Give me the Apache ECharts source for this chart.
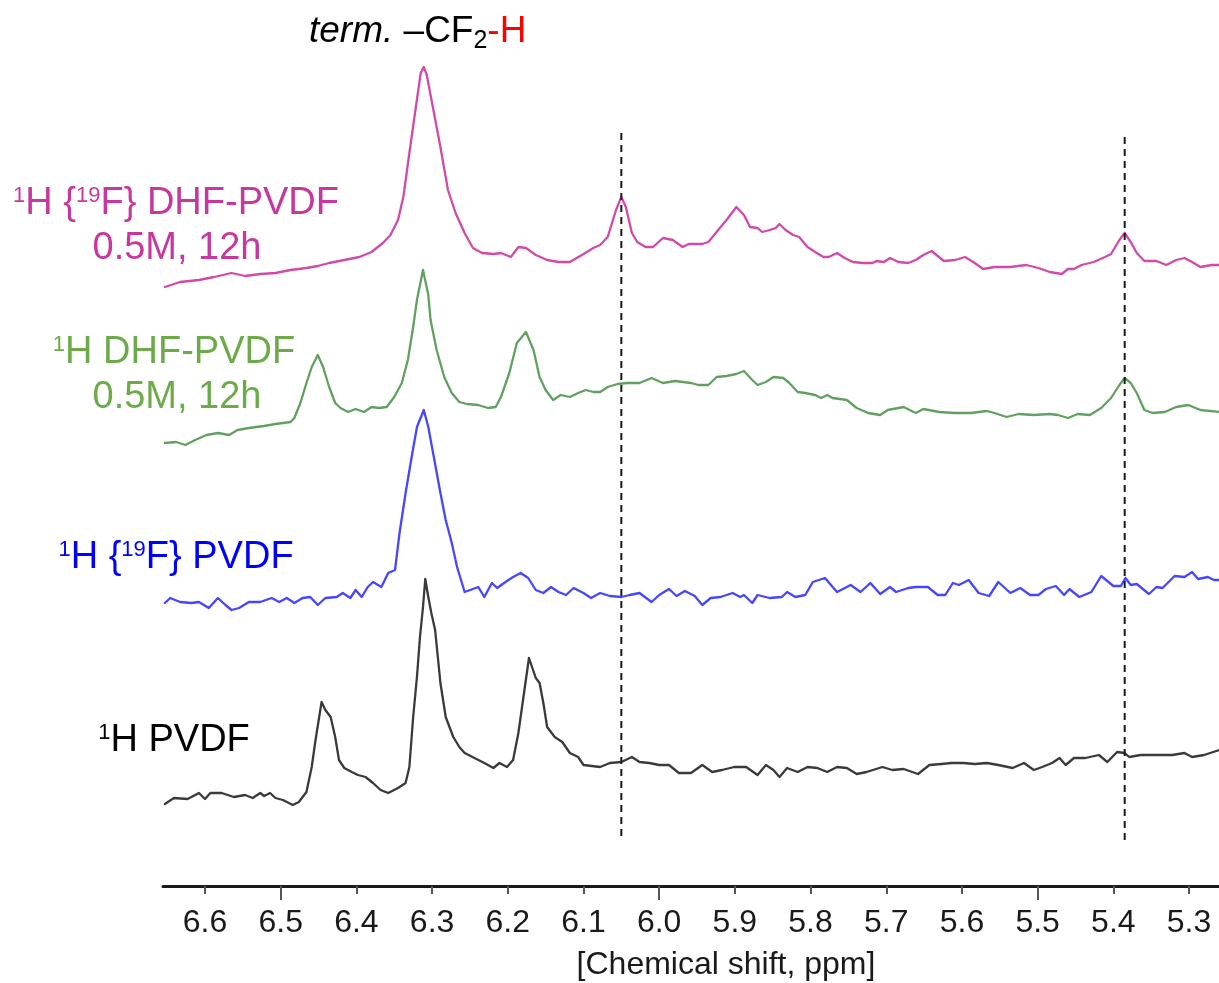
<!DOCTYPE html>
<html>
<head>
<meta charset="utf-8">
<script src="https://cdn.jsdelivr.net/npm/echarts@6/dist/echarts.min.js"></script>
<style>
html,body{margin:0;padding:0;background:#fff;}
#chart{width:1219px;height:983px;}
</style>
</head>
<body>
<div id="chart"></div>
<script>
// Chemical shift axis ticks (ppm)
const tickValues = [5.3,5.4,5.5,5.6,5.7,5.8,5.9,6.0,6.1,6.2,6.3,6.4,6.5,6.6];
const majorTickValues = [5.5,6.0,6.5];

// Trace: 1H {19F} DHF-PVDF 0.5M, 12h (intensity, arbitrary units incl. stacking offset)
const magentaPpm = [6.653,6.633,6.608,6.588,6.565,6.547,6.527,6.507,6.487,6.466,6.451,6.436,6.416,6.396,6.380,6.365,6.355,6.345,6.338,6.330,6.322,6.315,6.311,6.307,6.299,6.289,6.279,6.269,6.257,6.246,6.234,6.219,6.209,6.196,6.186,6.176,6.163,6.148,6.133,6.118,6.102,6.087,6.078,6.068,6.057,6.050,6.044,6.036,6.029,6.018,6.008,5.995,5.982,5.969,5.961,5.943,5.935,5.922,5.911,5.898,5.888,5.880,5.870,5.864,5.854,5.846,5.841,5.833,5.823,5.815,5.804,5.794,5.783,5.776,5.765,5.755,5.744,5.731,5.718,5.713,5.703,5.695,5.684,5.671,5.661,5.651,5.640,5.632,5.624,5.609,5.596,5.585,5.572,5.557,5.536,5.515,5.499,5.484,5.468,5.460,5.452,5.442,5.426,5.411,5.403,5.392,5.385,5.377,5.369,5.359,5.343,5.330,5.317,5.306,5.296,5.285,5.270,5.260];
const magentaInt = [599,604,606,609,613,610,612,613,616,618,620,623,626,629,634,643,651,666,689,733,776,813,819,811,779,739,696,673,653,638,633,632,633,629,639,638,631,626,624,624,631,638,641,649,676,689,679,653,644,639,639,648,646,639,642,642,644,656,666,679,671,659,658,654,656,658,662,656,651,649,639,634,629,629,633,628,624,623,623,625,624,628,624,623,626,631,635,630,625,626,629,624,617,619,619,621,618,614,612,617,617,621,624,629,632,646,653,644,633,625,625,621,626,628,624,619,621,621];

// Trace: 1H DHF-PVDF 0.5M, 12h
const greenPpm = [6.653,6.638,6.626,6.613,6.598,6.583,6.568,6.557,6.542,6.522,6.507,6.487,6.482,6.474,6.466,6.459,6.451,6.444,6.436,6.428,6.421,6.411,6.401,6.390,6.380,6.370,6.360,6.350,6.340,6.332,6.325,6.320,6.312,6.305,6.302,6.294,6.284,6.274,6.264,6.254,6.239,6.226,6.216,6.209,6.198,6.188,6.176,6.166,6.158,6.150,6.140,6.130,6.118,6.107,6.097,6.087,6.078,6.068,6.055,6.042,6.026,6.010,5.995,5.979,5.958,5.948,5.935,5.924,5.911,5.898,5.888,5.877,5.870,5.859,5.849,5.836,5.828,5.817,5.807,5.794,5.786,5.778,5.771,5.752,5.739,5.724,5.708,5.698,5.677,5.661,5.651,5.630,5.609,5.588,5.567,5.557,5.541,5.525,5.505,5.484,5.473,5.460,5.447,5.431,5.416,5.403,5.392,5.385,5.377,5.369,5.359,5.348,5.332,5.317,5.301,5.285,5.260];
const greenInt = [443,444,441,446,451,453,451,456,458,460,462,464,468,483,503,519,531,519,499,483,478,474,477,474,479,478,479,489,503,526,559,586,616,591,566,536,509,493,484,482,481,478,479,489,513,543,554,536,509,496,486,491,489,493,496,494,494,499,502,503,503,508,503,505,503,501,501,509,510,512,515,506,501,504,509,508,503,494,493,491,488,491,488,486,478,473,471,476,479,473,477,474,473,473,475,473,469,472,471,472,471,468,472,471,478,488,501,508,503,493,476,473,474,479,481,476,474];

// Trace: 1H {19F} PVDF
const bluePpm = [6.653,6.646,6.633,6.618,6.608,6.595,6.583,6.573,6.565,6.555,6.542,6.527,6.512,6.502,6.492,6.482,6.471,6.461,6.451,6.441,6.426,6.418,6.408,6.401,6.393,6.385,6.378,6.367,6.358,6.349,6.343,6.335,6.327,6.320,6.311,6.305,6.297,6.289,6.282,6.274,6.267,6.257,6.246,6.239,6.231,6.221,6.214,6.203,6.193,6.183,6.173,6.163,6.153,6.143,6.133,6.123,6.113,6.100,6.090,6.078,6.065,6.050,6.039,6.026,6.010,6.000,5.987,5.977,5.966,5.953,5.943,5.932,5.919,5.903,5.893,5.888,5.877,5.870,5.854,5.838,5.831,5.820,5.807,5.797,5.781,5.765,5.747,5.734,5.721,5.708,5.695,5.687,5.671,5.661,5.645,5.632,5.622,5.612,5.604,5.591,5.578,5.564,5.552,5.536,5.523,5.510,5.499,5.489,5.476,5.465,5.458,5.445,5.429,5.416,5.400,5.390,5.384,5.377,5.369,5.353,5.343,5.335,5.319,5.306,5.296,5.288,5.275,5.267,5.260];
const blueInt = [283,288,284,283,284,278,288,281,276,278,284,284,288,284,288,283,288,289,281,288,289,293,288,296,289,299,304,299,313,316,353,393,429,459,476,459,426,393,366,343,319,294,297,299,289,303,298,304,309,313,308,296,293,299,294,291,298,293,288,293,290,289,291,293,284,291,297,290,295,290,281,288,289,293,289,291,283,291,288,289,294,289,291,304,308,294,301,294,303,292,299,294,298,299,299,291,291,303,301,306,293,290,304,293,298,291,291,297,300,291,297,289,294,310,300,300,308,301,302,292,299,298,310,309,314,307,309,306,306];

// Trace: 1H PVDF
const blackPpm = [6.653,6.641,6.623,6.608,6.600,6.593,6.578,6.562,6.547,6.537,6.527,6.522,6.514,6.507,6.497,6.484,6.476,6.466,6.459,6.454,6.446,6.441,6.434,6.428,6.423,6.416,6.406,6.398,6.388,6.378,6.368,6.358,6.345,6.335,6.330,6.325,6.320,6.316,6.312,6.309,6.305,6.301,6.296,6.292,6.289,6.282,6.272,6.264,6.257,6.244,6.231,6.219,6.211,6.201,6.193,6.186,6.178,6.172,6.163,6.158,6.153,6.148,6.138,6.128,6.118,6.107,6.100,6.078,6.065,6.050,6.036,6.026,6.013,6.000,5.987,5.974,5.958,5.943,5.930,5.917,5.901,5.885,5.870,5.859,5.849,5.841,5.831,5.817,5.804,5.791,5.778,5.765,5.752,5.739,5.726,5.705,5.692,5.677,5.658,5.643,5.627,5.614,5.598,5.583,5.567,5.552,5.533,5.518,5.505,5.494,5.481,5.471,5.463,5.452,5.437,5.419,5.408,5.395,5.385,5.379,5.364,5.343,5.322,5.306,5.296,5.280,5.260];
const blackInt = [82,88,87,93,87,93,93,89,91,88,93,90,93,88,86,81,84,94,119,146,184,176,169,149,126,118,114,111,109,103,96,93,98,103,119,169,209,249,279,307,289,273,256,226,203,169,149,139,133,128,123,118,123,119,126,153,196,228,208,203,183,159,149,144,133,129,121,119,123,124,129,124,123,121,121,113,113,121,114,116,119,119,111,121,116,109,118,114,119,118,114,119,118,112,114,119,116,117,112,121,122,123,123,122,123,121,118,123,116,119,123,128,121,128,128,131,124,134,133,129,131,131,131,133,129,131,136];

// Reference (dashed) lines
const guidePpm = [6.050, 5.385];
const guideTop = [753, 749];
const guideBottom = [49, 44];

const FONT = 'Liberation Sans, Arial, Helvetica, sans-serif';
const zip = (a, b) => a.map((v, i) => [v, b[i]]);

const traces = [
  {name: 'magenta', x: magentaPpm, y: magentaInt, color: '#d24aa9'},
  {name: 'green', x: greenPpm, y: greenInt, color: '#62a062'},
  {name: 'blue', x: bluePpm, y: blueInt, color: '#4646ff'},
  {name: 'black', x: blackPpm, y: blackInt, color: '#3a3a3a'}
];

const series = traces.map(t => ({
  type: 'line', name: t.name, data: zip(t.x, t.y), showSymbol: false, symbol: 'none',
  lineStyle: {color: t.color, width: 2.3, join: 'round', cap: 'round'}, silent: true, z: 2, xAxisIndex: 0
}));
guidePpm.forEach((p, i) => {
  series.push({
    type: 'line', data: [[p, guideTop[i]], [p, guideBottom[i]]], showSymbol: false, symbol: 'none',
    lineStyle: {color: '#1a1a1a', width: 2, type: [7, 5]}, silent: true, z: 5, xAxisIndex: 0
  });
});

const XMIN = 5.2604, XMAX = 6.6555;

function label(text, x, y, color, size) {
  return {
    type: 'text', x: x, y: y, silent: true,
    style: {
      text: text, fill: color, fontSize: size, fontFamily: FONT, align: 'center', verticalAlign: 'middle',
      lineHeight: 38,
      rich: {
        sup: {fontSize: 22, lineHeight: 22, verticalAlign: 'top', fill: color, fontFamily: FONT}
      }
    }
  };
}

const option = {
  animation: false,
  backgroundColor: '#ffffff',
  grid: {left: 163, right: 0, top: 0, bottom: 97, containLabel: false},
  xAxis: [
    {
      type: 'value', min: XMIN, max: XMAX, inverse: true, position: 'bottom',
      axisLine: {show: true, lineStyle: {color: '#1a1a1a', width: 3}},
      axisTick: {show: true, customValues: tickValues, length: 8, lineStyle: {color: '#555', width: 2}},
      axisLabel: {show: true, customValues: tickValues, formatter: v => v.toFixed(1),
        fontSize: 32, fontFamily: FONT, color: '#1a1a1a', margin: 21},
      splitLine: {show: false}
    },
    {
      type: 'value', min: XMIN, max: XMAX, inverse: true, position: 'bottom', offset: 0,
      axisLine: {show: false},
      axisTick: {show: true, customValues: majorTickValues, length: 14, lineStyle: {color: '#555', width: 2}},
      axisLabel: {show: false},
      splitLine: {show: false}
    }
  ],
  yAxis: {type: 'value', min: 0, max: 886, show: false},
  series: series,
  graphic: [
    {
      type: 'text', x: 309, y: 32, silent: true,
      style: {
        text: '{i|term.} –CF{sub|2}{r|-H}', fill: '#000', fontSize: 37, fontFamily: FONT,
        align: 'left', verticalAlign: 'middle', lineHeight: 44,
        rich: {
          i: {fontStyle: 'italic', fontSize: 37, fontFamily: FONT, fill: '#000', lineHeight: 44},
          sub: {fontSize: 25, lineHeight: 25, verticalAlign: 'bottom', fontFamily: FONT, fill: '#000'},
          r: {fontSize: 37, fontFamily: FONT, fill: '#ff0000', lineHeight: 44}
        }
      }
    },
    label('{sup|1}H {{sup|19}F} DHF-PVDF', 176, 204, '#c8379d', 38),
    label('0.5M, 12h', 177, 249, '#c8379d', 38),
    label('{sup|1}H DHF-PVDF', 174, 353, '#6dab4a', 38),
    label('0.5M, 12h', 177, 398, '#6dab4a', 38),
    label('{sup|1}H {{sup|19}F} PVDF', 176, 558, '#0000ff', 38),
    label('{sup|1}H PVDF', 174, 741, '#000000', 38),
    {
      type: 'text', x: 726, y: 965, silent: true,
      style: {text: '[Chemical shift, ppm]', fill: '#1a1a1a', fontSize: 32, fontFamily: FONT,
        align: 'center', verticalAlign: 'middle'}
    }
  ]
};

const chart = echarts.init(document.getElementById('chart'), null, {renderer: 'canvas'});
chart.setOption(option);
</script>
</body>
</html>
